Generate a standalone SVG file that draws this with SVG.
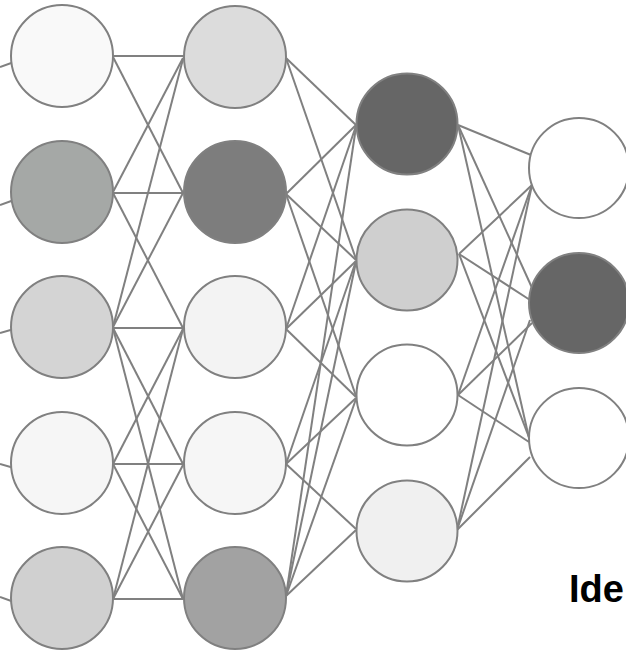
<svg xmlns="http://www.w3.org/2000/svg" width="626" height="651" viewBox="0 0 626 651">
<style>
.n{stroke:#808080;stroke-width:2}
.e line{stroke:#808080;stroke-width:2}
.t{font-family:"Liberation Sans",Arial,sans-serif;font-weight:bold;font-size:38px;fill:#000}
</style>
<rect width="626" height="651" fill="#fff"/>
<g id="connectors" class="e">
<line x1="0" y1="67" x2="14" y2="62"/>
<line x1="0" y1="205" x2="14" y2="200"/>
<line x1="0" y1="333" x2="14" y2="329"/>
<line x1="0" y1="464" x2="14" y2="468"/>
<line x1="0" y1="597" x2="14" y2="602"/>
<line x1="113" y1="56" x2="184" y2="56"/>
<line x1="113" y1="57" x2="183" y2="193"/>
<line x1="113" y1="192" x2="183" y2="58"/>
<line x1="113" y1="193" x2="184" y2="193"/>
<line x1="113" y1="193" x2="183" y2="328"/>
<line x1="113" y1="327" x2="183" y2="59"/>
<line x1="113" y1="327" x2="183" y2="193"/>
<line x1="113" y1="328" x2="184" y2="328"/>
<line x1="113" y1="328" x2="183" y2="464"/>
<line x1="113" y1="328" x2="183" y2="599"/>
<line x1="113" y1="464" x2="183" y2="329"/>
<line x1="113" y1="464" x2="184" y2="464"/>
<line x1="113" y1="464" x2="183" y2="599"/>
<line x1="113" y1="599" x2="183" y2="329"/>
<line x1="113" y1="599" x2="183" y2="465"/>
<line x1="113" y1="599" x2="184" y2="599"/>
<line x1="286" y1="58" x2="356" y2="125"/>
<line x1="286" y1="58" x2="356" y2="259"/>
<line x1="286" y1="194" x2="356" y2="125"/>
<line x1="286" y1="194" x2="356" y2="260"/>
<line x1="286" y1="194" x2="356" y2="396"/>
<line x1="286" y1="329" x2="356" y2="126"/>
<line x1="286" y1="329" x2="356" y2="261"/>
<line x1="286" y1="329" x2="356" y2="397"/>
<line x1="286" y1="464" x2="356" y2="261"/>
<line x1="286" y1="464" x2="356" y2="398"/>
<line x1="286" y1="464" x2="356" y2="529"/>
<line x1="286" y1="596" x2="356" y2="127"/>
<line x1="286" y1="596" x2="356" y2="262"/>
<line x1="286" y1="596" x2="356" y2="399"/>
<line x1="286" y1="596" x2="356" y2="530"/>
<line x1="458" y1="125" x2="531" y2="155"/>
<line x1="458" y1="125" x2="533" y2="290"/>
<line x1="458" y1="125" x2="529" y2="438"/>
<line x1="459" y1="254" x2="532" y2="185"/>
<line x1="459" y1="254" x2="530" y2="300"/>
<line x1="459" y1="254" x2="530" y2="440"/>
<line x1="458" y1="395" x2="532" y2="185"/>
<line x1="458" y1="395" x2="532" y2="323"/>
<line x1="458" y1="395" x2="529" y2="442"/>
<line x1="457" y1="530" x2="532" y2="185"/>
<line x1="457" y1="530" x2="530" y2="320"/>
<line x1="457" y1="530" x2="530" y2="457"/>
</g>
<g id="l1n1"><circle class="n" cx="62" cy="56" r="51" fill="#f9f9f9"/></g>
<g id="l1n2"><circle class="n" cx="62" cy="192" r="51" fill="#a5a8a6"/></g>
<g id="l1n3"><circle class="n" cx="62" cy="327" r="51" fill="#d4d4d4"/></g>
<g id="l1n4"><circle class="n" cx="62" cy="463" r="51" fill="#f6f6f6"/></g>
<g id="l1n5"><circle class="n" cx="62" cy="598" r="51" fill="#d0d0d0"/></g>
<g id="l2n1"><circle class="n" cx="235" cy="57" r="51" fill="#dcdcdc"/></g>
<g id="l2n2"><circle class="n" cx="235" cy="192" r="51" fill="#7d7d7d"/></g>
<g id="l2n3"><circle class="n" cx="235" cy="327" r="51" fill="#f3f3f3"/></g>
<g id="l2n4"><circle class="n" cx="235" cy="463" r="51" fill="#f6f6f6"/></g>
<g id="l2n5"><circle class="n" cx="235" cy="598" r="51" fill="#a2a2a2"/></g>
<g id="l3n1"><circle class="n" cx="407" cy="124" r="50.5" fill="#666666"/></g>
<g id="l3n2"><circle class="n" cx="407" cy="260" r="50.5" fill="#cfcfcf"/></g>
<g id="l3n3"><circle class="n" cx="407" cy="395" r="50.5" fill="#ffffff"/></g>
<g id="l3n4"><circle class="n" cx="407" cy="531" r="50.5" fill="#f0f0f0"/></g>
<g id="l4n1"><circle class="n" cx="579" cy="168" r="50" fill="#ffffff"/></g>
<g id="l4n2"><circle class="n" cx="579" cy="303" r="50" fill="#666666"/></g>
<g id="l4n3"><circle class="n" cx="579" cy="438" r="50" fill="#ffffff"/></g>
<text class="t" x="569" y="602">Ide</text>
</svg>
